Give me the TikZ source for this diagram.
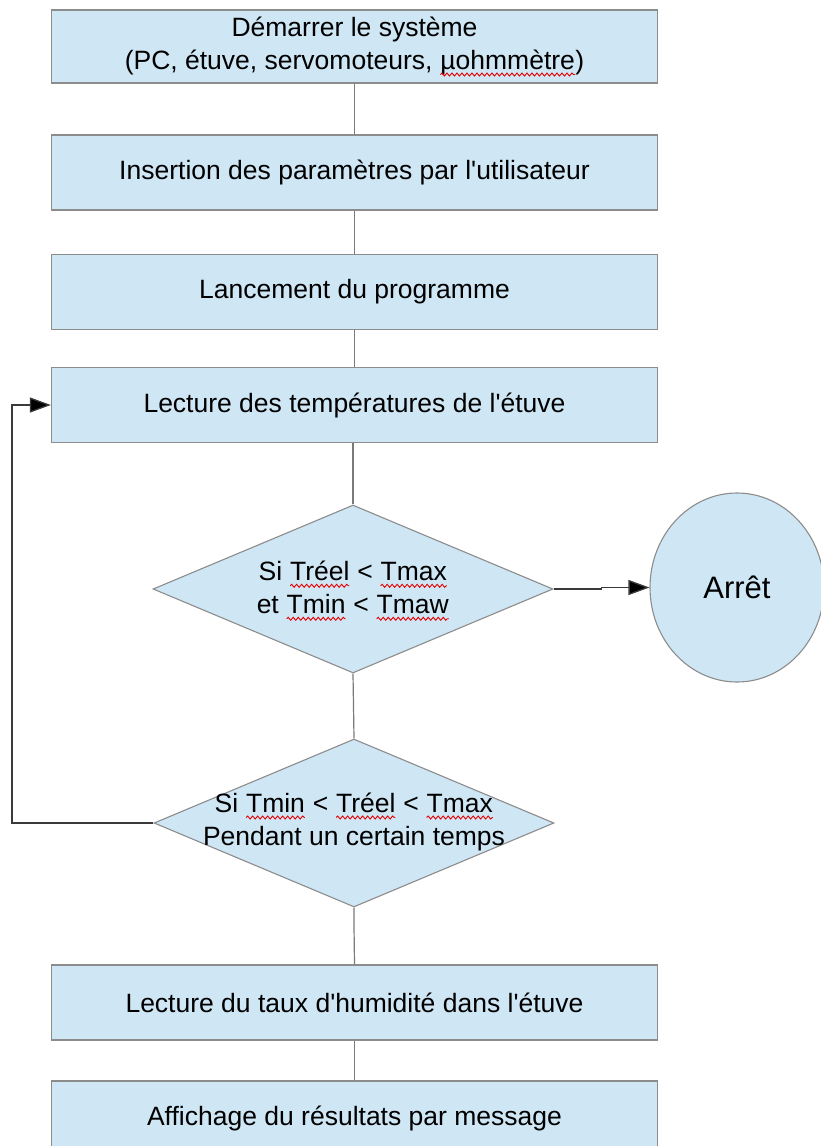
\documentclass[tikz,border=0pt]{standalone}
\usepackage{fontspec}
\setmainfont{Liberation Sans}
\usetikzlibrary{shapes.geometric,arrows.meta,decorations.pathmorphing}

\definecolor{boxfill}{HTML}{CFE6F4}
\definecolor{boxline}{HTML}{8C8C8C}
\definecolor{linkgray}{HTML}{7A7A7A}
\definecolor{loopgray}{HTML}{3A3A3A}

% word marked with a red wavy underline
\newcommand{\wavyword}[1]{\tikz[baseline=(ww.base)]{%
  \node[rectangle,draw=none,fill=none,inner sep=0pt,outer sep=0pt,
        minimum width=0pt,minimum height=0pt] (ww) {#1};
  \draw[red!90!black,line width=0.9pt,decorate,
        decoration={snake,amplitude=1.5pt,segment length=5pt}]
    ([yshift=-5pt]ww.base west) -- ([yshift=-5pt]ww.base east);}}

\tikzset{
  stepbox/.style={rectangle,draw=boxline,fill=boxfill,line width=1.3pt,
    minimum width=606pt,minimum height=75pt,inner sep=0pt,align=center,
    font=\fontsize{26.5}{33.5}\selectfont},
  decision/.style={diamond,draw=boxline,fill=boxfill,line width=1.1pt,
    minimum width=400pt,minimum height=168pt,inner sep=0pt},
  decisiontext/.style={inner sep=0pt,align=center,font=\fontsize{26.5}{33}\selectfont},
  stopnode/.style={ellipse,draw=boxline,fill=boxfill,line width=1.1pt,
    minimum width=174pt,minimum height=189pt,inner sep=0pt,
    font=\fontsize{31}{36}\selectfont},
  link/.style={draw=linkgray,line width=1.2pt},
  arrowlink/.style={draw=loopgray,line width=1.3pt,
    -{Triangle[length=21pt,width=15pt,fill=black]}},
}

\begin{document}
\begin{tikzpicture}[x=1pt,y=-1pt]
  \useasboundingbox (0,0) rectangle (821,1146);
  \clip (0,0) rectangle (821,1146);

  % process steps
  \node[stepbox,minimum height=73pt] (start) at (354.5,46.5)
    {Démarrer le système\\(PC, étuve, servomoteurs, \wavyword{µohmmètre})};
  \node[stepbox] (params) at (354.5,172.5)
    {Insertion des paramètres par l\textquotesingle utilisateur};
  \node[stepbox] (launch) at (354.5,292) {Lancement du programme};
  \node[stepbox] (readtemp) at (354.5,405)
    {Lecture des températures de l\textquotesingle étuve};

  % decisions
  \node[decision] (check1) at (353,589) {};
  \node[decisiontext] (check1txt) at (353,591)
    {Si \wavyword{Tréel} < \wavyword{Tmax}\\et \wavyword{Tmin} < \wavyword{Tmaw}};
  \node[decision] (check2) at (354,823) {};
  \node[decisiontext] (check2txt) at (354,822)
    {Si \wavyword{Tmin} < \wavyword{Tréel} < \wavyword{Tmax}\\Pendant un certain temps};

  % stop
  \node[stopnode] (stop) at (737,587.5) {Arrêt};

  % final steps
  \node[stepbox] (readhum) at (354.5,1002.5)
    {Lecture du taux d\textquotesingle humidité dans l\textquotesingle étuve};
  \node[stepbox] (display) at (354.5,1118.5) {Affichage du résultats par message};

  % vertical links
  \draw[link] (start.south) -- (params.north);
  \draw[link] (params.south) -- (launch.north);
  \draw[link] (launch.south) -- (readtemp.north);
  \draw[link] (readtemp.south -| check1.north) -- (check1.north);
  \draw[link] (check1.south) -- (check2.north);
  \draw[link] (check2.south) -- ++(0,18) -- (readhum.north);
  \draw[link] (readhum.south) -- (display.north);

  % exit to stop
  \draw[arrowlink] (check1.east) -- ++(48,0) -- ++(0,-1.5) -- (stop.west);

  % loop back to temperature reading
  \coordinate (loopcorner) at (12,823);
  \draw[arrowlink] (check2.west) -- (loopcorner) |- (readtemp.west);
\end{tikzpicture}
\end{document}
